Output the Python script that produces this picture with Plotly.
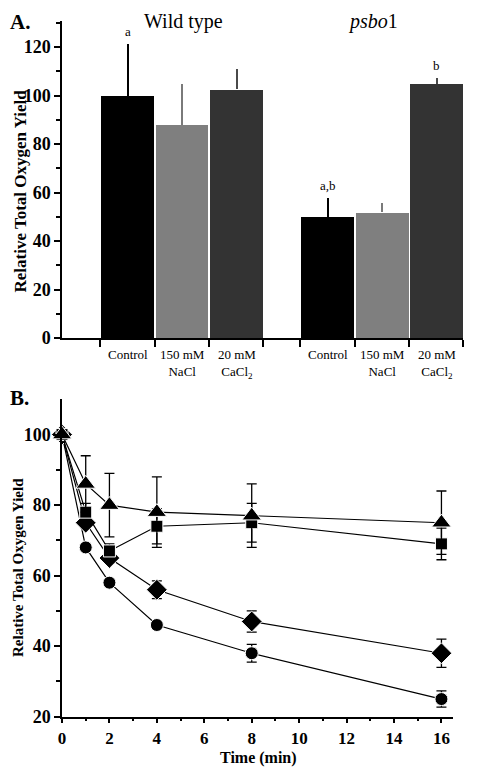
import plotly.graph_objects as go

# ---------------- data ----------------
# Panel A
groups = ["Wild type", "psbo1"]
treatments = ["Control", "150 mM<br>NaCl", "20 mM<br>CaCl<sub>2</sub>"]
wt_values = [100, 88, 102.7]
wt_errors = [21.4, 16.8, 8.1]
psbo_values = [50, 51.8, 104.9]
psbo_errors = [7.6, 3.7, 2.4]
sig_letters_wt = ["a", "", ""]
sig_letters_psbo = ["a,b", "", "b"]
yA_ticks = [0, 20, 40, 60, 80, 100, 120]

# Panel B
time_min = [0, 1, 2, 4, 8, 16]
circle_vals = [100, 68, 58, 46, 38, 25]
circle_err = [0, 1, 1, 1, 2.5, 2.3]
diamond_vals = [100, 75, 65, 56, 47, 38]
diamond_err = [0, 1.5, 1.5, 2.5, 3, 4]
square_vals = [100, 78, 67, 74, 75, 69]
square_err = [0, 2.5, 2, 5, 5.5, 4.5]
triangle_vals = [100, 86, 80, 78, 77, 75]
triangle_err = [0, 8, 9, 10, 9, 9]
xB_ticks = [0, 2, 4, 6, 8, 10, 12, 14, 16]
yB_ticks = [20, 40, 60, 80, 100]

# ---------------- layout constants ----------------
OFF = 8                      # page body margin
W, H = 478 - OFF, 769 - OFF  # figure size so that it fits the window
SERIF = "Liberation Serif, Times New Roman, Times, serif"
def px(x): return (x - OFF) / W
def py(y): return 1 - (y - OFF) / H

bar_colors = ["#000000", "#7f7f7f", "#333333"]
err_colors = ["#000000", "#7a7a7a", "#4a4a4a"]
wt_pos = [1.2, 2.2, 3.2]
psbo_pos = [4.865, 5.865, 6.865]
bar_w = 0.965

fig = go.Figure()

for i in range(3):
    fig.add_trace(go.Bar(
        x=[wt_pos[i], psbo_pos[i]], y=[wt_values[i], psbo_values[i]],
        width=bar_w, marker=dict(color=bar_colors[i], line=dict(width=0)),
        error_y=dict(type="data", symmetric=False,
                     array=[wt_errors[i], psbo_errors[i]], arrayminus=[0, 0],
                     width=0, thickness=2, color=err_colors[i]),
        xaxis="x", yaxis="y", showlegend=False))

# significance letters
for pos, v, e, t in zip(wt_pos + psbo_pos, wt_values + psbo_values,
                        wt_errors + psbo_errors, sig_letters_wt + sig_letters_psbo):
    if t:
        fig.add_annotation(x=pos, y=v + e, xref="x", yref="y", text=t,
                           showarrow=False, yanchor="bottom", yshift=3,
                           font=dict(family=SERIF, size=13, color="black"))

# category labels
for pos, t in zip(wt_pos + psbo_pos, treatments + treatments):
    fig.add_annotation(x=pos, y=py(345), xref="x", yref="paper", text=t,
                       showarrow=False, yanchor="top",
                       font=dict(family=SERIF, size=13, color="black"))

edges = [0.7, 1.7, 2.7, 3.687, 4.365, 5.366, 6.36, 7.345]

# Panel B traces
series = [
    (circle_vals, circle_err, "circle", 13),
    (diamond_vals, diamond_err, "diamond", 16),
    (square_vals, square_err, "square", 12),
    (triangle_vals, triangle_err, "triangle-up", 17),
]
for vals, err, sym, sz in series:
    fig.add_trace(go.Scatter(
        x=time_min, y=vals, mode="lines+markers",
        line=dict(color="black", width=1.2),
        marker=dict(symbol=sym, size=sz, color="black",
                    line=dict(color="white", width=1)),
        error_y=dict(type="data", array=err, width=5, thickness=1.3, color="black"),
        cliponaxis=False, xaxis="x2", yaxis="y2", showlegend=False))

axis_common = dict(showline=True, linecolor="black", linewidth=1.5,
                   ticks="outside", tickcolor="black", tickwidth=1.5,
                   showgrid=False, zeroline=False, automargin=False)

fig.update_layout(
    width=W, height=H, autosize=False,
    margin=dict(l=0, r=0, t=0, b=0, pad=0),
    paper_bgcolor="white", plot_bgcolor="white",
    bargap=0,
    xaxis=dict(domain=[px(62), px(463)], range=[0, 7.345], anchor="y",
               tickmode="array", tickvals=edges, showticklabels=False,
               ticklen=7, **axis_common),
    yaxis=dict(domain=[py(338), py(20.5)], range=[0, 131], anchor="x",
               tickmode="array", tickvals=yA_ticks, ticklen=6,
               tickfont=dict(family=SERIF, size=18, color="black", weight="bold"),
               minor=dict(tickmode="array", tickvals=[10, 30, 50, 70, 90, 110, 130],
                          ticks="outside", ticklen=4, tickcolor="black", tickwidth=1.5),
               **axis_common),
    xaxis2=dict(domain=[px(62), px(453.3)], range=[0, 16.5], anchor="y2",
                tickmode="array", tickvals=xB_ticks, ticklen=5,
                tickfont=dict(family=SERIF, size=17, color="black", weight="bold"),
                minor=dict(tickmode="array", tickvals=[1, 3, 5, 7, 9, 11, 13, 15],
                           ticks="outside", ticklen=3, tickcolor="black", tickwidth=1.5),
                **axis_common),
    yaxis2=dict(domain=[py(716.7), py(399.3)], range=[20, 110], anchor="x2",
                tickmode="array", tickvals=yB_ticks, ticklen=6,
                tickfont=dict(family=SERIF, size=18, color="black", weight="bold"),
                minor=dict(tickmode="array", tickvals=[30, 50, 70, 90],
                           ticks="outside", ticklen=4, tickcolor="black", tickwidth=1.5),
                **axis_common),
)

# titles / labels
def label(x, y, text, size, bold=False, angle=0, xanchor="center", yanchor="middle"):
    fig.add_annotation(x=px(x), y=py(y), xref="paper", yref="paper", text=text,
                       showarrow=False, textangle=angle, xanchor=xanchor, yanchor=yanchor,
                       font=dict(family=SERIF, size=size, color="black",
                                 weight="bold" if bold else "normal"))

label(OFF, OFF, "A.", 21, bold=True, xanchor="left", yanchor="top")
label(OFF, 398, "B.", 21, bold=True, xanchor="left")
label(183, OFF, groups[0], 20, yanchor="top")
label(373, OFF, "<i>psbo</i>1", 20, yanchor="top")
label(OFF, 191, "Relative Total Oxygen Yield", 17, bold=True, angle=-90, xanchor="left")
label(OFF, 568, "Relative Total Oxygen Yield", 15, bold=True, angle=-90, xanchor="left")
label(258, 758, "Time (min)", 16, bold=True)

fig.write_html("out.html")
